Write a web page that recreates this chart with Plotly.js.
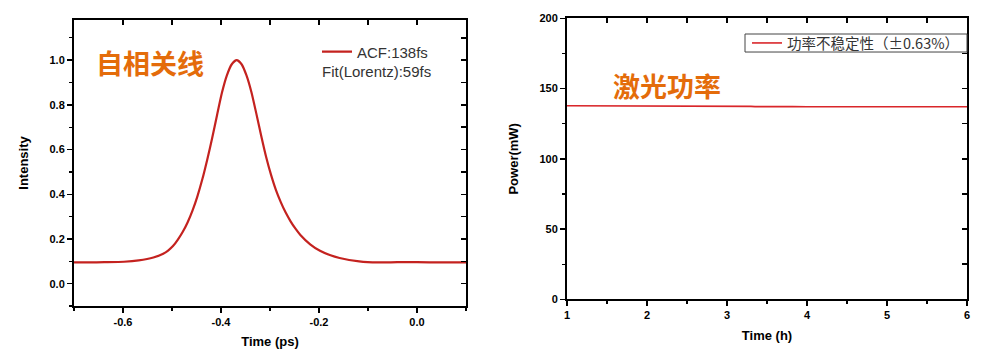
<!DOCTYPE html>
<html>
<head>
<meta charset="utf-8">
<script src="https://cdn.plot.ly/plotly-3.0.1.min.js"></script>
<style>html,body{margin:0;padding:0;background:#fff;}#chart{width:1000px;height:363px;}</style>
</head>
<body>
<div id="chart"></div>
<script>
// ---- Left chart: autocorrelation trace ----
const acfTime = [-0.700,-0.670,-0.638,-0.598,-0.568,-0.538,-0.518,-0.508,-0.498,-0.488,-0.478,-0.468,-0.458,-0.448,-0.438,-0.428,-0.418,-0.408,-0.398,-0.388,-0.378,-0.368,-0.358,-0.348,-0.338,-0.328,-0.318,-0.308,-0.298,-0.288,-0.278,-0.268,-0.258,-0.248,-0.238,-0.218,-0.198,-0.178,-0.158,-0.118,-0.080,-0.040,0.000,0.050,0.100];
const acfIntensity = [0.095,0.095,0.096,0.098,0.104,0.117,0.134,0.148,0.168,0.197,0.232,0.275,0.328,0.392,0.468,0.556,0.652,0.755,0.855,0.932,0.982,1.000,0.982,0.932,0.858,0.762,0.662,0.568,0.488,0.420,0.365,0.318,0.279,0.246,0.218,0.176,0.147,0.128,0.115,0.100,0.095,0.096,0.096,0.095,0.095];
const leftXTickVals = [-0.6,-0.4,-0.2,0.0];
const leftXTickText = ['-0.6','-0.4','-0.2','0.0'];
const leftYTickVals = [0.0,0.2,0.4,0.6,0.8,1.0];
const leftYTickText = ['0.0','0.2','0.4','0.6','0.8','1.0'];
const acfName = 'ACF:138fs';
const fitLabel = 'Fit(Lorentz):59fs';
const leftNote = '自相关线';

// ---- Right chart: laser power stability ----
const powerTime = [1,1.5,2,2.5,3,3.25,3.3,3.35,3.5,3.75,3.78,3.82,4,4.5,5,5.5,6];
const powerValue = [137.8,137.8,137.7,137.8,137.7,137.6,137.3,137.1,137.1,137.2,137.6,137.1,137.0,137.0,137.0,137.0,137.0];
const rightXTickVals = [1,2,3,4,5,6];
const rightYTickVals = [0,50,100,150,200];
const powerName = '功率不稳定性（±0.63%）';
const rightNote = '激光功率';

const F = 'Liberation Sans, Arial, sans-serif';
const CJK = 'Noto Sans CJK SC, sans-serif';
const tickFont = {family: F, size: 11, color: '#000', weight: 'bold'};
const titleFont = {family: F, size: 13, color: '#000', weight: 'bold'};

const traces = [
  {x: acfTime, y: acfIntensity, type: 'scatter', mode: 'lines', name: acfName, showlegend: true,
   line: {color: '#C4221F', width: 2.2, shape: 'spline', smoothing: 0.6}, xaxis: 'x', yaxis: 'y', legend: 'legend'},
  {x: powerTime, y: powerValue, type: 'scatter', mode: 'lines', name: powerName, showlegend: true,
   line: {color: '#D9262A', width: 1.6}, xaxis: 'x2', yaxis: 'y2', legend: 'legend2'},
  // invisible copies that carry the inward mirror-tick axes (top/right)
  {x: acfTime, y: acfIntensity, type: 'scatter', mode: 'lines', showlegend: false, hoverinfo: 'skip',
   line: {color: 'rgba(0,0,0,0)', width: 0}, xaxis: 'x3', yaxis: 'y3'},
  {x: powerTime, y: powerValue, type: 'scatter', mode: 'lines', showlegend: false, hoverinfo: 'skip',
   line: {color: 'rgba(0,0,0,0)', width: 0}, xaxis: 'x4', yaxis: 'y4'}
];

const LDX = [0.074, 0.466], LDY = [0.157, 0.945];
const RDX = [0.567, 0.967], RDY = [0.1755, 0.9496];
const LXR = [-0.7, 0.1], LYR = [-0.1, 1.18];
const RXR = [1, 6], RYR = [0, 200];

function mainAxis(o) {
  return Object.assign({
    showgrid: false, zeroline: false, showline: true, linecolor: '#000', linewidth: 2,
    mirror: true, ticks: 'outside', ticklen: 5, tickwidth: 1.5, tickcolor: '#000',
    tickfont: tickFont, fixedrange: true
  }, o);
}
function mirrorAxis(o) {
  return Object.assign({
    showgrid: false, zeroline: false, showline: false, ticks: 'inside', ticklen: 5,
    tickwidth: 1.5, tickcolor: '#000', showticklabels: false, fixedrange: true
  }, o);
}

const layout = {
  width: 1000, height: 363,
  margin: {l: 0, r: 0, t: 0, b: 0},
  paper_bgcolor: '#fff', plot_bgcolor: '#fff',
  showlegend: true,
  font: {family: F, color: '#000'},
  xaxis: mainAxis({domain: LDX, range: LXR, anchor: 'y', tickmode: 'array', tickvals: leftXTickVals, ticktext: leftXTickText,
    minor: {ticks: 'outside', ticklen: 3, tickwidth: 1.2, tickcolor: '#000', tickmode: 'linear', tick0: -0.7, dtick: 0.1},
    title: {text: 'Time (ps)', font: titleFont, standoff: 10}}),
  yaxis: mainAxis({domain: LDY, range: LYR, anchor: 'x', tickmode: 'array', tickvals: leftYTickVals, ticktext: leftYTickText,
    minor: {ticks: 'outside', ticklen: 3, tickwidth: 1.2, tickcolor: '#000', tickmode: 'linear', tick0: 0, dtick: 0.1},
    title: {text: 'Intensity', font: titleFont, standoff: 18}}),
  xaxis3: mirrorAxis({domain: LDX, overlaying: 'x', anchor: 'y3', side: 'top', range: LXR, tickmode: 'linear', tick0: -0.7, dtick: 0.1}),
  yaxis3: mirrorAxis({domain: LDY, overlaying: 'y', anchor: 'x3', side: 'right', range: LYR, tickmode: 'linear', tick0: 0, dtick: 0.1}),

  xaxis2: mainAxis({domain: RDX, range: RXR, anchor: 'y2', tickmode: 'array', tickvals: rightXTickVals,
    minor: {ticks: 'outside', ticklen: 3, tickwidth: 1.2, tickcolor: '#000', tickmode: 'linear', tick0: 1, dtick: 0.5},
    title: {text: 'Time (h)', font: titleFont, standoff: 10}}),
  yaxis2: mainAxis({domain: RDY, range: RYR, anchor: 'x2', tickmode: 'array', tickvals: rightYTickVals,
    minor: {ticks: 'outside', ticklen: 3, tickwidth: 1.2, tickcolor: '#000', tickmode: 'linear', tick0: 0, dtick: 25},
    title: {text: 'Power(mW)', font: titleFont, standoff: 18}}),
  xaxis4: mirrorAxis({domain: RDX, overlaying: 'x2', anchor: 'y4', side: 'top', range: RXR, tickmode: 'linear', tick0: 1, dtick: 0.5}),
  yaxis4: mirrorAxis({domain: RDY, overlaying: 'y2', anchor: 'x4', side: 'right', range: RYR, tickmode: 'linear', tick0: 0, dtick: 25}),

  legend: {x: 0.317, y: 0.857, xanchor: 'left', yanchor: 'middle', bgcolor: 'rgba(0,0,0,0)', borderwidth: 0,
    font: {family: F, size: 15, color: '#333'}, itemwidth: 30, tracegroupgap: 0},
  legend2: {x: 0.747, y: 0.8815, xanchor: 'left', yanchor: 'middle', bgcolor: 'rgba(0,0,0,0)', borderwidth: 0,
    font: {family: CJK, size: 14.5, color: '#333'}, itemwidth: 30},
  shapes: [
    // legend frame of the right chart
    {type: 'rect', xref: 'paper', yref: 'paper', x0: 0.745, x1: 0.967, y0: 0.8567, y1: 0.9063,
     line: {color: '#444', width: 1}, fillcolor: '#fff', layer: 'above'}
  ],
  annotations: [
    {xref: 'paper', yref: 'paper', x: 0.320, y: 0.804, xanchor: 'left', yanchor: 'middle', showarrow: false,
     text: fitLabel, font: {family: F, size: 15, color: '#333'}},
    {xref: 'paper', yref: 'paper', x: 0.094, y: 0.828, xanchor: 'left', yanchor: 'middle', showarrow: false,
     text: leftNote, font: {family: CJK, size: 27, color: '#E46C0A', weight: 'bold'}},
    {xref: 'paper', yref: 'paper', x: 0.611, y: 0.765, xanchor: 'left', yanchor: 'middle', showarrow: false,
     text: rightNote, font: {family: CJK, size: 27, color: '#E46C0A', weight: 'bold'}}
  ]
};

Plotly.newPlot('chart', traces, layout, {staticPlot: true, displayModeBar: false});
</script>
</body>
</html>
